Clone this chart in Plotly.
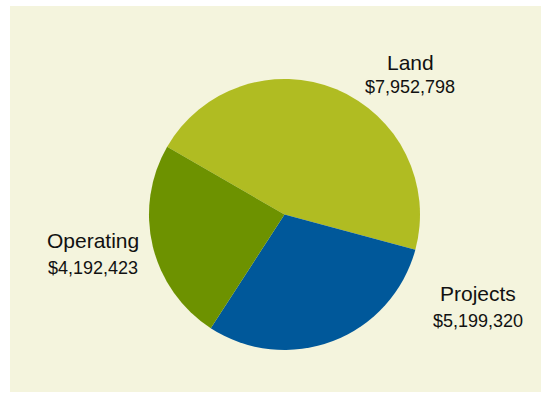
import plotly.graph_objects as go

# Budget breakdown
categories = ["Land", "Projects", "Operating"]
amounts = [7952798, 5199320, 4192423]
slice_colors = ["#b0bc22", "#00589a", "#6d9200"]

W, H = 542, 393

fig = go.Figure(
    go.Pie(
        labels=categories,
        values=amounts,
        sort=False,
        direction="clockwise",
        rotation=-60,
        marker=dict(colors=slice_colors, line=dict(width=0)),
        textinfo="none",
        hoverinfo="label+value+percent",
        showlegend=False,
        domain=dict(x=[149 / W, 420 / W], y=[43 / H, 314 / H]),
    )
)

# Label anchor points (pixels from top-left) for each category
label_pos = {
    "Land": (410, 63, 87),
    "Projects": (478, 293, 321),
    "Operating": (93, 240, 268),
}

annotations = []
for name, amt in zip(categories, amounts):
    x, y_name, y_val = label_pos[name]
    annotations.append(dict(
        x=x / W, y=1 - y_name / H, xref="paper", yref="paper",
        text=name, showarrow=False, xanchor="center", yanchor="middle",
        font=dict(family="Liberation Sans, Arial, sans-serif", size=21, color="#111111"),
    ))
    annotations.append(dict(
        x=x / W, y=1 - y_val / H, xref="paper", yref="paper",
        text=f"${amt:,}", showarrow=False, xanchor="center", yanchor="middle",
        font=dict(family="Liberation Sans, Arial, sans-serif", size=18, color="#111111"),
    ))

fig.update_layout(
    width=W,
    height=H,
    margin=dict(l=0, r=0, t=0, b=0),
    paper_bgcolor="white",
    plot_bgcolor="white",
    shapes=[dict(
        type="rect", xref="paper", yref="paper", layer="below",
        x0=10 / W, x1=541 / W, y0=1 - 392 / H, y1=1 - 6 / H,
        fillcolor="#f4f4dd", line=dict(width=0),
    )],
    annotations=annotations,
)

fig.write_html("out.html")
